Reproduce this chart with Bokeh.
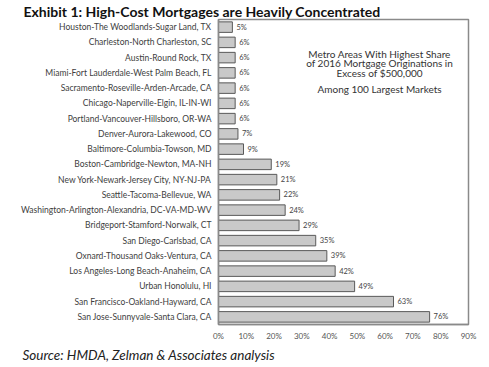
from bokeh.plotting import figure
from bokeh.models import Range1d, FactorRange, Label, FixedTicker, ColumnDataSource, Title
from bokeh.core.properties import value
from bokeh.embed import file_html
from bokeh.resources import INLINE

metros = [
    "Houston-The Woodlands-Sugar Land, TX",
    "Charleston-North Charleston, SC",
    "Austin-Round Rock, TX",
    "Miami-Fort Lauderdale-West Palm Beach, FL",
    "Sacramento-Roseville-Arden-Arcade, CA",
    "Chicago-Naperville-Elgin, IL-IN-WI",
    "Portland-Vancouver-Hillsboro, OR-WA",
    "Denver-Aurora-Lakewood, CO",
    "Baltimore-Columbia-Towson, MD",
    "Boston-Cambridge-Newton, MA-NH",
    "New York-Newark-Jersey City, NY-NJ-PA",
    "Seattle-Tacoma-Bellevue, WA",
    "Washington-Arlington-Alexandria, DC-VA-MD-WV",
    "Bridgeport-Stamford-Norwalk, CT",
    "San Diego-Carlsbad, CA",
    "Oxnard-Thousand Oaks-Ventura, CA",
    "Los Angeles-Long Beach-Anaheim, CA",
    "Urban Honolulu, HI",
    "San Francisco-Oakland-Hayward, CA",
    "San Jose-Sunnyvale-Santa Clara, CA",
]
shares = [5, 6, 6, 6, 6, 6, 6, 7, 9, 19, 21, 22, 24, 29, 35, 39, 42, 49, 63, 76]
x_ticks = [0, 10, 20, 30, 40, 50, 60, 70, 80, 90]
x_tick_labels = ["0%", "10%", "20%", "30%", "40%", "50%", "60%", "70%", "80%", "90%"]

title_text = "Exhibit 1: High-Cost Mortgages are Heavily Concentrated"
note_lines = ["Metro Areas With Highest Share", "of 2016 Mortgage Originations in", "Excess of $500,000"]
note_sub = "Among 100 Largest Markets"
source_text = "Source: HMDA, Zelman & Associates analysis"

FONT = "Lato"

src = ColumnDataSource(dict(
    metro=metros,
    share=shares,
    label=[f"{v}%" for v in shares],
))

p = figure(
    output_backend="svg", toolbar_location=None,
    frame_width=250, frame_height=305,
    min_border_left=218, min_border_right=21, min_border_top=19, min_border_bottom=43,
    x_range=Range1d(0, 90),
    y_range=FactorRange(factors=list(reversed(metros)), range_padding=0),
)
p.title = Title(text=title_text, align="left", offset=-195, standoff=0,
                text_font=FONT, text_font_style="bold", text_font_size="14px",
                text_color="#111111")
p.background_fill_color = "white"
p.border_fill_color = "white"
p.outline_line_color = "#8a8a8a"
p.outline_line_width = 1.5
p.xgrid.grid_line_color = None
p.ygrid.grid_line_color = None

p.hbar(y="metro", right="share", left=0, height=0.69, source=src,
       fill_color="#c9c9c9", line_color="#5a5a5a", line_width=1)

p.text(x="share", y="metro", text="label", source=src, x_offset=4,
       text_baseline="middle", text_align="left", text_font=value(FONT),
       text_font_size="7.5px", text_color="#444444")

xa = p.xaxis[0]
xa.ticker = FixedTicker(ticks=x_ticks)
xa.major_label_overrides = {t: l for t, l in zip(x_ticks, x_tick_labels)}
xa.major_tick_line_color = None
xa.minor_tick_line_color = None
xa.major_tick_out = 0
xa.minor_tick_out = 0
xa.axis_line_color = "#8a8a8a"
xa.axis_line_width = 1.5
xa.major_label_text_font = FONT
xa.major_label_text_font_size = "8px"
xa.major_label_text_color = "#555555"
xa.major_label_standoff = 6

ya = p.yaxis[0]
ya.major_tick_line_color = None
ya.minor_tick_line_color = None
ya.major_tick_out = 0
ya.minor_tick_out = 0
ya.axis_line_color = "#8a8a8a"
ya.axis_line_width = 1.5
ya.major_label_text_font = FONT
ya.major_label_text_font_size = "8.5px"
ya.major_label_text_color = "#404040"
ya.major_label_standoff = 7

for yy, t in zip([17.77, 17.12, 16.46], note_lines):
    p.add_layout(Label(x=58.0, y=yy, text=t, text_font=FONT, text_font_size="10px",
                       text_color="#333333", text_align="center", text_baseline="middle"))
p.add_layout(Label(x=58.0, y=15.41, text=note_sub, text_font=FONT, text_font_size="10px",
                   text_color="#333333", text_align="center", text_baseline="middle"))

p.add_layout(Title(text=source_text, align="left", offset=-196, standoff=2,
                   text_font=FONT, text_font_style="italic", text_font_size="13.5px",
                   text_color="#222222"), "below")

open("out.html", "w").write(file_html(p, INLINE))
